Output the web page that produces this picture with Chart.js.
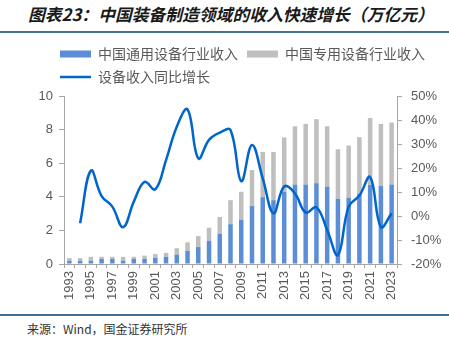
<!DOCTYPE html>
<html>
<head>
<meta charset="utf-8">
<script src="https://cdn.jsdelivr.net/npm/chart.js@4/dist/chart.umd.min.js"></script>
<style>
  body { margin: 0; background: #fff; }
  #page { position: relative; width: 449px; height: 341px; overflow: hidden; }
  #title { position: absolute; left: 28px; top: 4px; font: italic bold 16.8px "Noto Sans CJK SC"; line-height: 20px; color: #1a1a1a; white-space: nowrap; }
  .rule { position: absolute; left: 0; width: 449px; height: 2px; background: #44708f; }
  #wrap { position: absolute; left: 0; top: 38px; width: 449px; height: 270px; }
  #source { position: absolute; left: 27px; top: 321px; font: 12px "Noto Sans CJK SC"; line-height: 16px; color: #333; }
</style>
</head>
<body>
<div id="page">
  <div id="title">图表23：中国装备制造领域的收入快速增长（万亿元）</div>
  <div class="rule" style="top:31px"></div>
  <div id="wrap"><canvas id="chart" width="449" height="270"></canvas></div>
  <div class="rule" style="top:314px"></div>
  <div id="source">来源：Wind，国金证券研究所</div>
</div>
<script>
var years = ['1993','1994','1995','1996','1997','1998','1999','2000','2001','2002',
             '2003','2004','2005','2006','2007','2008','2009','2010','2011','2012',
             '2013','2014','2015','2016','2017','2018','2019','2020','2021','2022','2023'];

// 万亿元
var generalRevenue = [0.2, 0.2, 0.2, 0.3, 0.3, 0.2, 0.3, 0.3, 0.37, 0.43,
                      0.56, 0.78, 1.01, 1.38, 1.79, 2.37, 2.64, 3.45, 3.98, 3.8,
                      4.3, 4.73, 4.73, 4.81, 4.6, 3.88, 3.94, 4.18, 4.7, 4.65, 4.73];
var specialRevenue = [0.15, 0.15, 0.23, 0.13, 0.13, 0.23, 0.13, 0.2, 0.22, 0.23,
                      0.38, 0.51, 0.65, 0.78, 1.01, 1.43, 1.66, 2.14, 2.69, 2.87,
                      3.23, 3.47, 3.61, 3.81, 3.6, 2.95, 3.11, 3.37, 3.99, 3.69, 3.69];
// %
var growth = [null, -3, 18.9, 8.3, 3.9, -4.7, 6, 14.2, 11.1, 23.3,
              37.2, 44.4, 24, 31.7, 34.7, 35.8, 14.5, 29.6, 15.7, 1.1,
              12.3, 9.4, 1.4, 3.6, -5.8, -16.3, 3.9, 8.5, 16.2, -4.6, 1.1];

var axisColor = '#a6a6a6';
var tickFont = { family: 'Liberation Sans, Arial', size: 13 };

// fixed legend height, and legend rows start at x=60 like the original
var legendBox = {
  id: 'legendBox',
  beforeInit: function(chart) {
    var fit = chart.legend.fit;
    chart.legend.fit = function() {
      fit.call(this);
      this.height = 58;
    };
  },
  afterLayout: function(chart) {
    chart.legend.left = 51;
  }
};

var ctx = document.getElementById('chart');
window.myChart = new Chart(ctx, {
  type: 'bar',
  data: {
    labels: years,
    datasets: [{
      label: '中国通用设备行业收入',
      data: generalRevenue,
      backgroundColor: '#5b8ed6',
      yAxisID: 'y',
      order: 1,
      barPercentage: 0.42,
      categoryPercentage: 1
    }, {
      label: '中国专用设备行业收入',
      data: specialRevenue,
      backgroundColor: '#bfbfbf',
      yAxisID: 'y',
      order: 1,
      barPercentage: 0.42,
      categoryPercentage: 1
    }, {
      type: 'line',
      label: '设备收入同比增长',
      data: growth,
      borderColor: '#0066cc',
      backgroundColor: '#0066cc',
      borderWidth: 2.5,
      pointRadius: 0,
      tension: 0.4,
      yAxisID: 'y1',
      order: 0
    }]
  },
  options: {
    responsive: false,
    animation: false,
    layout: { padding: 0 },
    plugins: {
      tooltip: { enabled: false },
      legend: {
        position: 'top',
        align: 'start',
        maxWidth: 449,
        labels: {
          usePointStyle: true,
          pointStyleWidth: 31,
          boxHeight: 7,
          padding: 9,
          color: '#595959',
          font: { family: 'Noto Sans CJK SC', size: 14 },
          generateLabels: function(chart) {
            return chart.data.datasets.map(function(ds, i) {
              var isLine = ds.type === 'line';
              return {
                text: ds.label,
                datasetIndex: i,
                fillStyle: ds.backgroundColor,
                strokeStyle: isLine ? ds.borderColor : ds.backgroundColor,
                lineWidth: isLine ? 2.5 : 0,
                pointStyle: isLine ? 'line' : 'rect',
                fontColor: '#595959',
                hidden: false
              };
            });
          }
        }
      }
    },
    scales: {
      x: {
        stacked: true,
        grid: { display: true, drawOnChartArea: false, drawTicks: true, tickLength: 4, color: axisColor, offset: true },
        border: { display: true, color: axisColor },
        ticks: {
          autoSkip: false,
          maxRotation: 90,
          minRotation: 90,
          padding: 3,
          color: '#595959',
          font: tickFont,
          callback: function(val, i) { return i % 2 === 0 ? years[i] : ''; }
        },
        afterFit: function(scale) { scale.height = 44; }
      },
      y: {
        stacked: true,
        position: 'left',
        min: 0,
        max: 10,
        grid: { display: true, drawOnChartArea: false, drawTicks: true, tickLength: 5, color: axisColor },
        border: { display: true, color: axisColor },
        ticks: { stepSize: 2, padding: 6, color: '#595959', font: tickFont },
        afterFit: function(scale) { scale.width = 64; }
      },
      y1: {
        position: 'right',
        stacked: false,
        min: -20,
        max: 50,
        grid: { display: true, drawOnChartArea: false, drawTicks: true, tickLength: 5, color: axisColor },
        border: { display: true, color: axisColor },
        ticks: {
          stepSize: 10,
          padding: 9,
          color: '#595959',
          font: tickFont,
          callback: function(v) { return v + '%'; }
        },
        afterFit: function(scale) { scale.width = 52; }
      }
    }
  },
  plugins: [legendBox]
});
</script>
</body>
</html>
